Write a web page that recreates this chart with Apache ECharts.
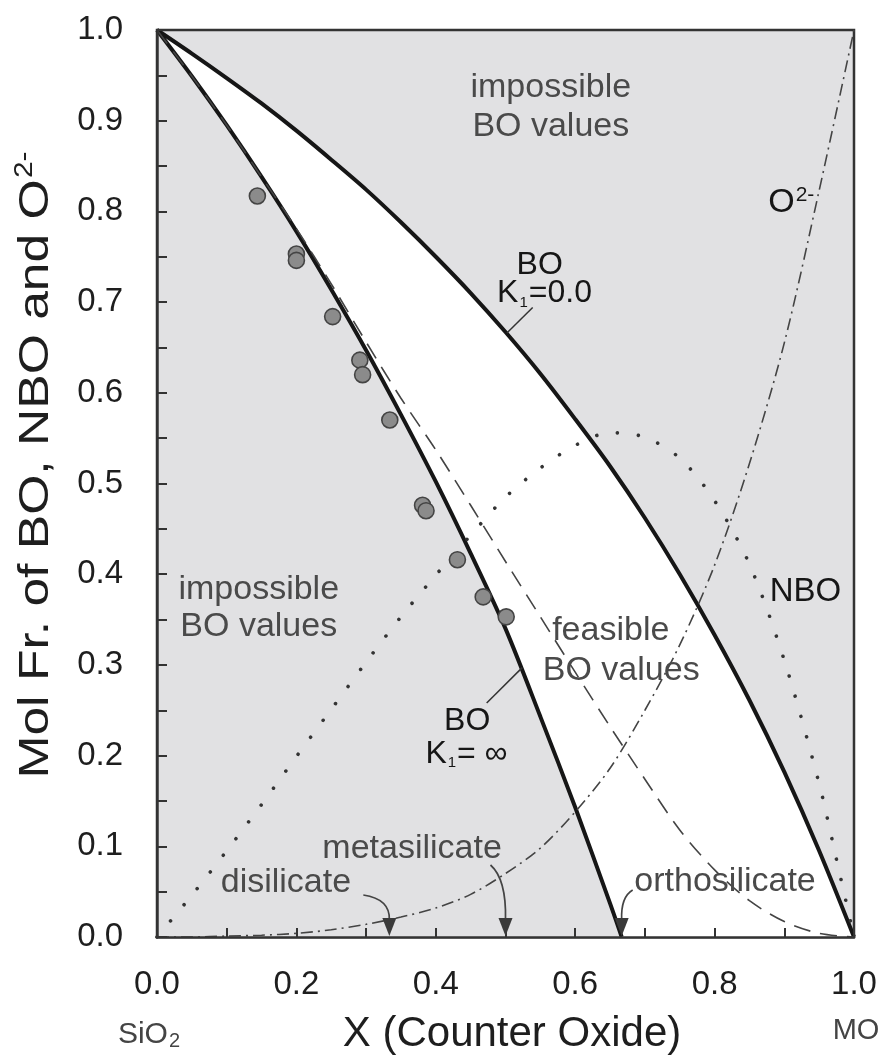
<!DOCTYPE html>
<html>
<head>
<meta charset="utf-8">
<script src="https://cdn.jsdelivr.net/npm/echarts@6/dist/echarts.min.js"></script>
<style>
  html, body { margin: 0; padding: 0; background: #ffffff; }
  #chart { width: 889px; height: 1055px; }
</style>
</head>
<body>
<div id="chart"></div>
<script>
// Composition grid, mole fraction of counter oxide
const xGrid = [0, 0.05, 0.1, 0.15, 0.2, 0.25, 0.3, 0.35, 0.4, 0.45, 0.5,
               0.55, 0.6, 0.65, 0.7, 0.75, 0.8, 0.85, 0.9, 0.95, 1];

// Bridging oxygen, K1 = 0.0 (upper bound)
const boK0 = [1, 0.974, 0.947, 0.919, 0.889, 0.857, 0.824, 0.788, 0.75, 0.71, 0.667,
              0.621, 0.571, 0.519, 0.462, 0.4, 0.333, 0.261, 0.182, 0.095, 0];

// Bridging oxygen, K1 = infinity (lower bound, ends at orthosilicate)
const boKinfX = [0, 0.05, 0.1, 0.15, 0.2, 0.25, 0.3, 0.35, 0.4, 0.45, 0.5, 0.55, 0.6, 0.65, 0.6667];
const boKinf  = [1, 0.949, 0.895, 0.838, 0.778, 0.714, 0.647, 0.576, 0.502, 0.423, 0.34, 0.243, 0.143, 0.037, 0];

// Bridging oxygen, intermediate model (dashed)
const boMid = [1, 0.949, 0.895, 0.838, 0.781, 0.72, 0.656, 0.594, 0.537, 0.476, 0.414,
               0.353, 0.292, 0.232, 0.174, 0.118, 0.074, 0.04, 0.017, 0.004, 0];

// Non-bridging oxygen (dotted)
const nboX = [0, 0.05, 0.1, 0.15, 0.2, 0.25, 0.3, 0.35, 0.4, 0.45, 0.5, 0.55, 0.6, 0.65,
              0.7, 0.75, 0.8, 0.85, 0.9, 0.95, 0.975, 1];
const nbo  = [0, 0.046, 0.095, 0.146, 0.199, 0.251, 0.303, 0.353, 0.399, 0.443, 0.485, 0.517,
              0.542, 0.556, 0.551, 0.528, 0.481, 0.411, 0.305, 0.169, 0.085, 0];

// Free oxygen O2- (dash-dot)
const o2 = [0, 0, 0.001, 0.002, 0.004, 0.008, 0.014, 0.022, 0.032, 0.047, 0.07,
            0.098, 0.138, 0.186, 0.25, 0.322, 0.41, 0.522, 0.655, 0.823, 1];

// Measured BO fractions
const measX = [0.144, 0.2, 0.2, 0.252, 0.291, 0.295, 0.334, 0.381, 0.386, 0.431, 0.468, 0.501];
const measY = [0.817, 0.753, 0.746, 0.684, 0.636, 0.62, 0.57, 0.476, 0.47, 0.416, 0.375, 0.353];

// Axis tick values
const xTickValues = [0, 0.2, 0.4, 0.6, 0.8, 1.0];
const yTickValues = [0, 0.1, 0.2, 0.3, 0.4, 0.5, 0.6, 0.7, 0.8, 0.9, 1.0];

const FONT = "'Liberation Sans', Arial, Helvetica, sans-serif";
const GREY_BG = '#e1e1e3';
const INK = '#161616';
const SOFT = '#4a4a4a';

const pairs = (xs, ys) => xs.map((x, i) => [x, ys[i]]);

const chart = echarts.init(document.getElementById('chart'), null, { renderer: 'canvas' });

const tickStyle = { color: '#333', width: 2 };

chart.setOption({
  animation: false,
  backgroundColor: '#ffffff',
  grid: {
    left: 157, top: 30, width: 697, height: 907,
    show: true, backgroundColor: GREY_BG, borderColor: '#333', borderWidth: 2.5,
    containLabel: false, outerBoundsMode: 'none'
  },
  xAxis: {
    type: 'value', min: 0, max: 1, interval: 0.2, z: 10,
    axisLine: { show: true, onZero: false, lineStyle: { color: '#333', width: 2.5 } },
    axisTick: { show: true, inside: true, length: 9, lineStyle: tickStyle },
    minorTick: { show: true, splitNumber: 2, length: 9, lineStyle: tickStyle },
    splitLine: { show: false },
    axisLabel: {
      show: true, fontFamily: FONT, fontSize: 33, color: '#1e1e1e', margin: 31,
      showMinLabel: true, showMaxLabel: true, hideOverlap: false,
      formatter: v => xTickValues.some(t => Math.abs(t - v) < 1e-6) ? v.toFixed(1) : ''
    }
  },
  yAxis: {
    type: 'value', min: 0, max: 1, interval: 0.1, z: 10,
    axisLine: { show: true, onZero: false, lineStyle: { color: '#333', width: 2.5 } },
    axisTick: { show: true, inside: true, length: 10, lineStyle: tickStyle },
    minorTick: { show: true, splitNumber: 2, length: 10, lineStyle: tickStyle },
    splitLine: { show: false },
    axisLabel: {
      show: true, fontFamily: FONT, fontSize: 33, color: '#1e1e1e', margin: 34,
      showMinLabel: true, showMaxLabel: true, hideOverlap: false,
      formatter: v => yTickValues.some(t => Math.abs(t - v) < 1e-6) ? v.toFixed(1) : ''
    }
  },
  series: [
    {
      // feasible region: white under the K1 = 0 curve
      name: 'BO K1=0.0', type: 'line', data: pairs(xGrid, boK0),
      smooth: 0.3, symbol: 'none', z: 2,
      lineStyle: { color: INK, width: 4 },
      areaStyle: { color: '#ffffff', opacity: 1, origin: 'start' }
    },
    {
      // impossible region under the K1 = infinity curve
      name: 'BO K1=inf', type: 'line', data: pairs(boKinfX, boKinf),
      smooth: 0.3, symbol: 'none', z: 3,
      lineStyle: { color: INK, width: 4 },
      areaStyle: { color: GREY_BG, opacity: 1, origin: 'start' }
    },
    {
      name: 'BO model', type: 'line', data: pairs(xGrid, boMid),
      smooth: 0.3, symbol: 'none', z: 4,
      lineStyle: { color: '#444', width: 1.6, type: [17, 10] }
    },
    {
      name: 'NBO', type: 'line', data: pairs(nboX, nbo),
      smooth: 0.3, symbol: 'none', z: 4,
      lineStyle: { color: '#333', width: 3.6, type: [0.01, 21], cap: 'round' }
    },
    {
      name: 'O2-', type: 'line', data: pairs(xGrid, o2),
      smooth: 0.3, symbol: 'none', z: 4,
      lineStyle: { color: '#444', width: 1.6, type: [12, 5, 2, 5] }
    },
    {
      name: 'measured', type: 'scatter', data: pairs(measX, measY),
      symbol: 'circle', symbolSize: 16, z: 6,
      itemStyle: { color: '#8b8b8b', borderColor: '#444', borderWidth: 1.6, opacity: 1 }
    }
  ]
});

const P = (x, y) => chart.convertToPixel({ gridIndex: 0 }, [x, y]);
const g = [];

function text(str, x, y, size, color, extra) {
  const p = P(x, y);
  g.push(Object.assign({
    type: 'text', x: p[0], y: p[1], z: 20,
    style: { text: str, fontFamily: FONT, fontSize: size, fill: color, align: 'center', verticalAlign: 'middle' }
  }, extra || {}));
}

function rich(str, x, y, richDef, extra) {
  const p = P(x, y);
  g.push(Object.assign({
    type: 'text', x: p[0], y: p[1], z: 20,
    style: { text: str, fontFamily: FONT, rich: richDef, align: 'center', verticalAlign: 'middle' }
  }, extra || {}));
}

function seg(a, b, color, w) {
  const p1 = P(a[0], a[1]), p2 = P(b[0], b[1]);
  g.push({ type: 'line', z: 19, shape: { x1: p1[0], y1: p1[1], x2: p2[0], y2: p2[1] },
           style: { stroke: color, lineWidth: w } });
}

// curved pointer ending in a filled head on the x axis
function pointer(fromPx, ctrlPx, tipX) {
  const tip = P(tipX, 0);
  const headLen = 19, headHalf = 7;
  const end = [tip[0], tip[1] - headLen + 2];
  g.push({ type: 'bezierCurve', z: 19,
    shape: { x1: fromPx[0], y1: fromPx[1], cpx1: ctrlPx[0], cpy1: ctrlPx[1], x2: end[0], y2: end[1] },
    style: { stroke: '#444', lineWidth: 1.7, fill: null } });
  g.push({ type: 'polygon', z: 19,
    shape: { points: [[tip[0], tip[1] - 1], [tip[0] - headHalf, tip[1] - headLen], [tip[0] + headHalf, tip[1] - headLen]] },
    style: { fill: '#3a3a3a' } });
}

// region labels
text('impossible', 0.565, 0.937, 34, SOFT);
text('BO values', 0.565, 0.893, 34, SOFT);
text('impossible', 0.146, 0.383, 34, SOFT);
text('BO values', 0.146, 0.342, 34, SOFT);
text('feasible', 0.651, 0.338, 34, SOFT);
text('BO values', 0.666, 0.294, 34, SOFT);

// curve labels
const kRich = {
  n: { fontFamily: FONT, fontSize: 32, fill: INK, lineHeight: 34 },
  s: { fontFamily: FONT, fontSize: 15, fill: INK, verticalAlign: 'bottom', lineHeight: 34, padding: [16, 1, 0, 1] }
};
text('BO', 0.549, 0.741, 32, INK);
rich('{n|K}{s|1}{n|=0.0}', 0.556, 0.71, kRich);
seg([0.539, 0.694], [0.502, 0.666], '#333', 1.5);

text('BO', 0.445, 0.238, 32, INK);
rich('{n|K}{s|1}{n|= ∞}', 0.444, 0.202, kRich);
seg([0.473, 0.258], [0.524, 0.297], '#333', 1.5);

text('NBO', 0.879, 0.38, 33, INK, { style: { text: 'NBO', fontFamily: FONT, fontSize: 33, fill: INK, align: 'left', verticalAlign: 'middle' } });

rich('{n|O}{p|2-}', 0.91, 0.81, {
  n: { fontFamily: FONT, fontSize: 34, fill: INK, lineHeight: 36 },
  p: { fontFamily: FONT, fontSize: 21, fill: INK, verticalAlign: 'top', lineHeight: 36, padding: [0, 0, 18, 1] }
});

// structural compositions
text('disilicate', 0.185, 0.06, 34, SOFT);
text('metasilicate', 0.366, 0.097, 34, SOFT);
text('orthosilicate', 0.815, 0.061, 34, SOFT);

(function () {
  const d = P(1 / 3, 0), m = P(0.5, 0), o = P(2 / 3, 0);
  pointer([d[0] - 26, d[1] - 42], [d[0] + 1, d[1] - 38], 1 / 3);
  pointer([m[0] - 15, m[1] - 72], [m[0] + 1, m[1] - 58], 0.5);
  pointer([o[0] + 11, o[1] - 47], [o[0] - 1, o[1] - 40], 2 / 3);
})();

// axis titles and end-member names
(function () {
  const bottom = P(0, 0)[1];
  g.push({ type: 'text', x: 36, y: 465, rotation: Math.PI / 2, scaleX: 1.2, z: 20,
    style: { text: '{t|Mol Fr. of BO, NBO and O}{p|2-}', align: 'center', verticalAlign: 'middle',
      rich: {
        t: { fontFamily: FONT, fontSize: 43, fill: '#1e1e1e', lineHeight: 46 },
        p: { fontFamily: FONT, fontSize: 25, fill: '#1e1e1e', verticalAlign: 'top', lineHeight: 46, padding: [0, 0, 22, 1] }
      } } });
  g.push({ type: 'text', x: 512, y: bottom + 97, z: 20,
    style: { text: 'X (Counter Oxide)', fontFamily: FONT, fontSize: 42, fill: '#1e1e1e', align: 'center', verticalAlign: 'middle' } });
  const s = P(0, 0), e = P(1, 0);
  g.push({ type: 'text', x: s[0] - 8, y: bottom + 98, z: 20,
    style: { text: '{n|SiO}{s|2}', align: 'center', verticalAlign: 'middle',
      rich: {
        n: { fontFamily: FONT, fontSize: 30, fill: '#444', lineHeight: 32 },
        s: { fontFamily: FONT, fontSize: 20, fill: '#444', verticalAlign: 'bottom', lineHeight: 32, padding: [14, 0, 0, 1] }
      } } });
  g.push({ type: 'text', x: e[0] + 2, y: bottom + 94, z: 20,
    style: { text: 'MO', fontFamily: FONT, fontSize: 29, fill: '#444', align: 'center', verticalAlign: 'middle' } });
})();

chart.setOption({ graphic: g });
</script>
</body>
</html>
